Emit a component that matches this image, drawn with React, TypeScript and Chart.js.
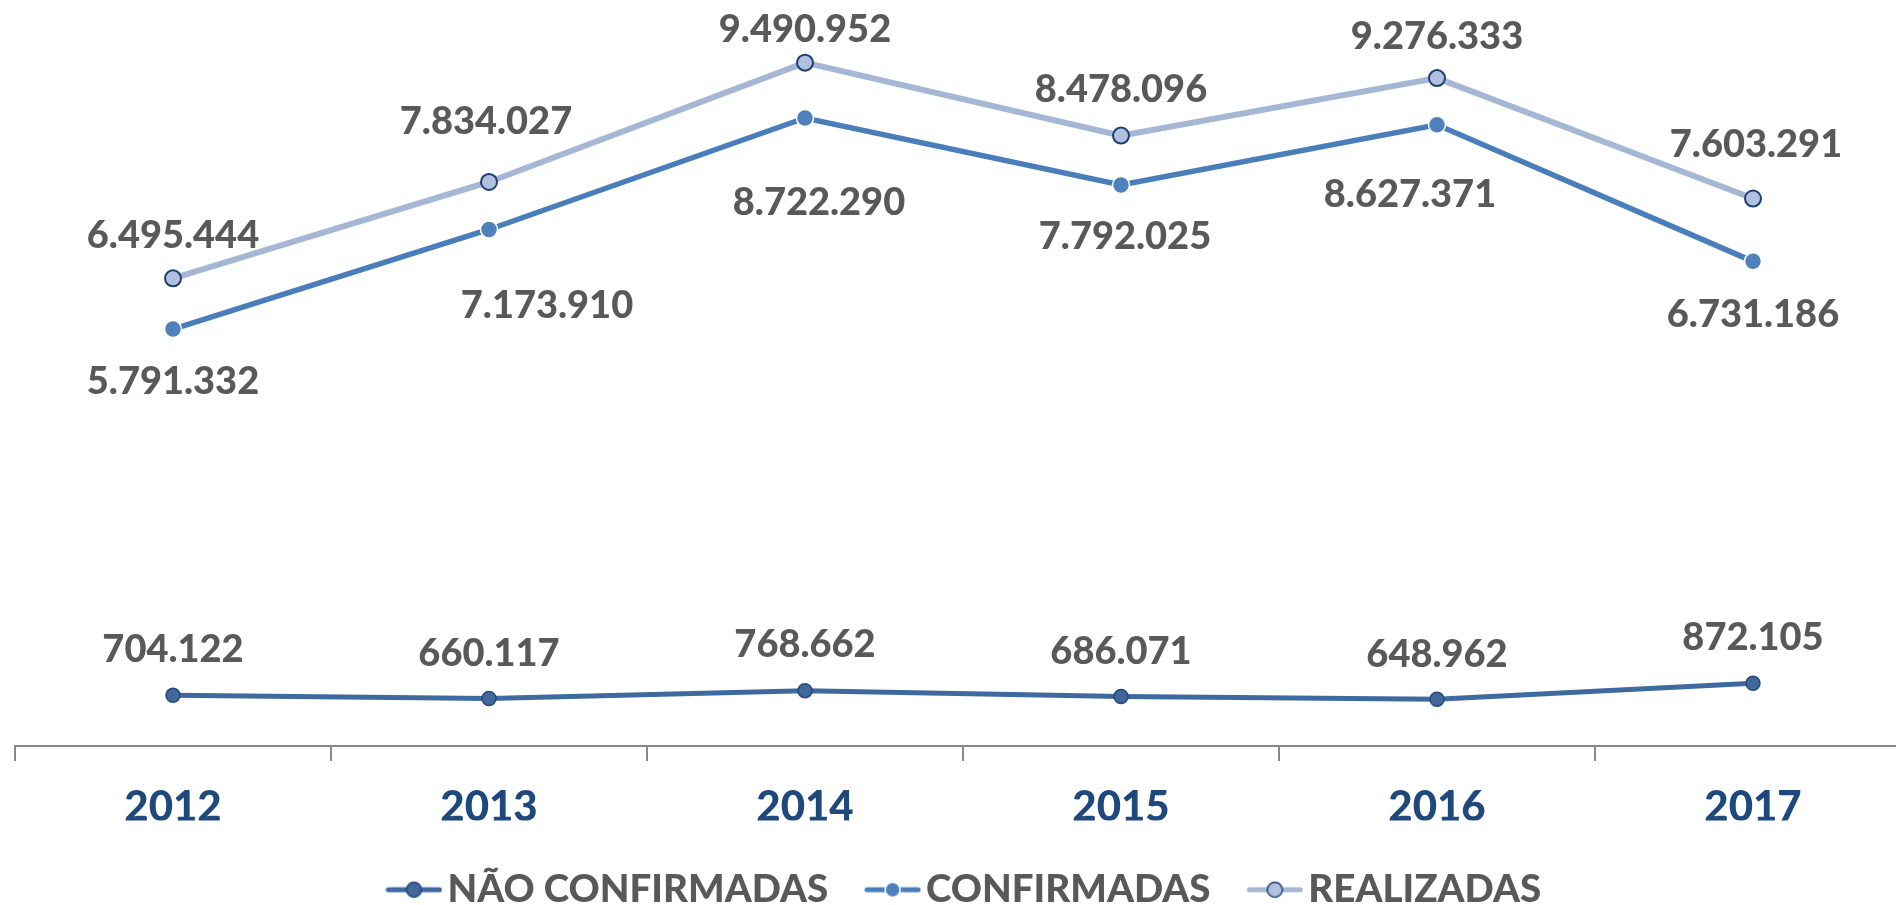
import { useEffect, useRef } from 'react';
import { Chart, registerables } from 'chart.js';

Chart.register(...registerables);

// ---- data ----
const years = ['2012', '2013', '2014', '2015', '2016', '2017'];
const naoConfirmadas = [704122, 660117, 768662, 686071, 648962, 872105];
const confirmadas = [5791332, 7173910, 8722290, 7792025, 8627371, 6731186];
const realizadas = [6495444, 7834027, 9490952, 8478096, 9276333, 7603291];
const seriesNames = ['NÃO CONFIRMADAS', 'CONFIRMADAS', 'REALIZADAS'];

// ---- label placement (px offsets from each point, to glyph centre) ----
const labelDx = [
  [0, 0, 0, 0, 0, 0],
  [0, 58, 14, 4, -27, 0],
  [0, -3, 0, 0, 0, 3],
];
const labelDy = [
  [-47, -46, -47, -46, -46, -47],
  [51, 75, 83, 50, 69, 52],
  [-44, -62, -34, -47, -43, -55],
];

// ---- styles ----
const lineColors = ['#3F6AA0', '#4A7EBB', '#A6B7D6'];
const markerFill = ['#41679C', '#4F81BD', '#B0C0DE'];
const markerBorder = ['#24497A', '#FFFFFF', '#1F3E74'];
const lineWidths = [5, 5.5, 6];
const markerRadius = [7, 8.5, 8];
const markerBorderWidth = [1.5, 1.5, 2];

const FONT_FAMILY = 'Lato';
const FONT_WEIGHT = 900;
const LABEL_SIZE = 38;
const LABEL_FONT = `${FONT_WEIGHT} ${LABEL_SIZE}px ${FONT_FAMILY}`;
const LEGEND_SIZE = 38.5;

function fmt(v: number): string {
  return String(v).replace(/\B(?=(\d{3})+(?!\d))/g, '.');
}

function makeIcon(i: number): HTMLCanvasElement {
  const c = document.createElement('canvas');
  c.width = 57;
  c.height = 18;
  const ctx = c.getContext('2d')!;
  ctx.strokeStyle = lineColors[i];
  ctx.lineWidth = 5;
  ctx.lineCap = 'round';
  ctx.beginPath();
  ctx.moveTo(3, 9);
  ctx.lineTo(54, 9);
  ctx.stroke();
  ctx.beginPath();
  ctx.arc(28.5, 9, 7.5, 0, Math.PI * 2);
  ctx.fillStyle = markerFill[i];
  ctx.fill();
  ctx.lineWidth = 1.5;
  ctx.strokeStyle = markerBorder[i];
  ctx.stroke();
  return c;
}

const valueLabels = {
  id: 'valueLabels',
  afterDatasetsDraw(chart: any) {
    const ctx = chart.ctx;
    ctx.save();
    ctx.font = LABEL_FONT;
    ctx.fillStyle = '#595959';
    ctx.textAlign = 'center';
    ctx.textBaseline = 'alphabetic';
    chart.data.datasets.forEach((ds: any, i: number) => {
      const meta = chart.getDatasetMeta(i);
      meta.data.forEach((pt: any, j: number) => {
        const x = pt.x + labelDx[i][j];
        const y = pt.y + labelDy[i][j] + LABEL_SIZE * 0.358;
        ctx.fillText(fmt(ds.data[j]), x, y);
      });
    });
    ctx.restore();
  },
};

export default function App() {
  const ref = useRef<HTMLCanvasElement | null>(null);

  useEffect(() => {
    if (!ref.current) return;
    const icons = [0, 1, 2].map(makeIcon);
    const series = [naoConfirmadas, confirmadas, realizadas];
    const chart = new Chart(ref.current, {
      type: 'line',
      data: {
        labels: years,
        datasets: series.map((d, i) => ({
          label: seriesNames[i],
          data: d,
          borderColor: lineColors[i],
          backgroundColor: markerFill[i],
          borderWidth: lineWidths[i],
          pointBackgroundColor: markerFill[i],
          pointBorderColor: markerBorder[i],
          pointBorderWidth: markerBorderWidth[i],
          pointRadius: markerRadius[i],
          pointHoverRadius: markerRadius[i],
          tension: 0,
          fill: false,
          clip: false as any,
          yAxisID: 'y',
        })),
      },
      options: {
        responsive: false,
        animation: false,
        events: [],
        layout: { padding: { left: 0, right: 30, top: 26, bottom: 0 } },
        scales: {
          x: {
            type: 'category',
            offset: true,
            grid: {
              offset: true,
              drawOnChartArea: false,
              drawTicks: true,
              tickLength: 15,
              color: '#888888',
              lineWidth: 2,
            },
            border: { display: true, color: '#888888', width: 2 },
            ticks: {
              color: '#1F497D',
              font: { family: FONT_FAMILY, size: 42, weight: FONT_WEIGHT },
              padding: 21,
              maxRotation: 0,
              autoSkip: false,
            },
            afterFit: (s: any) => {
              s.height = 74.5;
            },
          },
          y: {
            position: 'left',
            min: 0,
            max: 10000000,
            grid: { display: false },
            border: { display: false },
            ticks: { display: false },
            afterFit: (s: any) => {
              s.width = 15;
            },
          },
          yRight: {
            type: 'linear',
            position: 'right',
            min: 0,
            max: 1,
            grid: { display: false },
            border: { display: false },
            ticks: { display: false },
            afterFit: (s: any) => {
              s.width = 30;
            },
          },
        },
        plugins: {
          tooltip: { enabled: false },
          title: { display: false },
          legend: {
            display: true,
            position: 'bottom',
            labels: {
              usePointStyle: true,
              pointStyleWidth: 28.5,
              boxHeight: 16,
              padding: 50,
              color: '#595959',
              font: { family: FONT_FAMILY, size: LEGEND_SIZE, weight: FONT_WEIGHT },
              generateLabels: (c: any) => {
                const items = (Chart.defaults.plugins.legend.labels as any).generateLabels(c);
                items.forEach((it: any, i: number) => {
                  it.pointStyle = icons[i];
                });
                return items;
              },
            },
          },
        },
      },
      plugins: [valueLabels],
    } as any);
    return () => chart.destroy();
  }, []);

  return (
    <div
      style={{
        position: 'absolute',
        left: 0,
        top: 0,
        width: 1896,
        height: 905,
        overflow: 'hidden',
        background: '#ffffff',
      }}
    >
      <canvas ref={ref} width={1971} height={919} style={{ display: 'block' }} />
    </div>
  );
}
